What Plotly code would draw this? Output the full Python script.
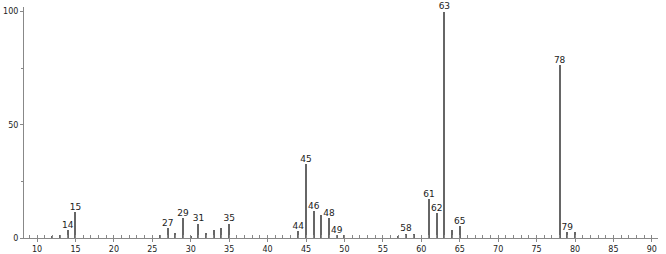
import plotly.graph_objects as go

mz = [12, 13, 14, 15, 26, 27, 28, 29, 30, 31, 32, 33, 34, 35,
      44, 45, 46, 47, 48, 49, 50, 57, 58, 59, 61, 62, 63, 64, 65, 78, 79, 80]
intensity = [0.6, 1.5, 3.6, 11.5, 1.3, 4.5, 2.2, 8.8, 1.0, 6.3, 2.4, 3.4, 4.2, 6.3,
             3.2, 32.7, 11.8, 10.3, 8.9, 1.2, 1.5, 1.0, 1.9, 1.8, 17.3, 11.0, 100, 3.4, 5.1, 76.5, 2.5, 2.5]
labeled = [14, 15, 27, 29, 31, 35, 44, 45, 46, 48, 49, 58, 61, 62, 63, 65, 78, 79]

x_ticks = list(range(10, 95, 5))
y_ticks = [0, 50, 100]

lab_x = [m for m in mz if m in labeled]
lab_y = [intensity[mz.index(m)] for m in lab_x]

fig = go.Figure()
fig.add_trace(go.Bar(x=mz, y=intensity, width=0.15,
                     marker=dict(color="#666666", line=dict(width=0))))
fig.add_trace(go.Scatter(x=lab_x, y=lab_y, mode="text", text=[str(v) for v in lab_x],
                         textposition="top center",
                         textfont=dict(family="DejaVu Sans", size=9, color="#222222"),
                         cliponaxis=False))

fig.update_layout(
    width=666, height=254,
    margin=dict(l=24, r=8, t=7, b=16, autoexpand=False),
    paper_bgcolor="white", plot_bgcolor="white",
    showlegend=False,
    font=dict(family="DejaVu Sans", size=9, color="#222222"),
    bargap=0,
)
fig.update_xaxes(range=[8.3, 90.8], tickvals=x_ticks, ticktext=[str(v) for v in x_ticks],
                 automargin=False,
                 showgrid=False, zeroline=False, showline=True, linecolor="#888888", linewidth=1,
                 ticks="outside", ticklen=3, tickcolor="#888888", tickfont=dict(size=8),
                 minor=dict(dtick=1, tick0=0, ticks="inside", ticklen=3, tickcolor="#888888", showgrid=False))
fig.update_yaxes(range=[0, 102], tickvals=y_ticks, ticktext=[str(v) for v in y_ticks],
                 automargin=False,
                 showgrid=False, zeroline=False, showline=True, linecolor="#888888", linewidth=1,
                 ticks="outside", ticklen=3, tickcolor="#888888", tickfont=dict(size=8),
                 minor=dict(dtick=25, tick0=0, ticks="outside", ticklen=2, tickcolor="#888888", showgrid=False))

fig.write_html("out.html")
